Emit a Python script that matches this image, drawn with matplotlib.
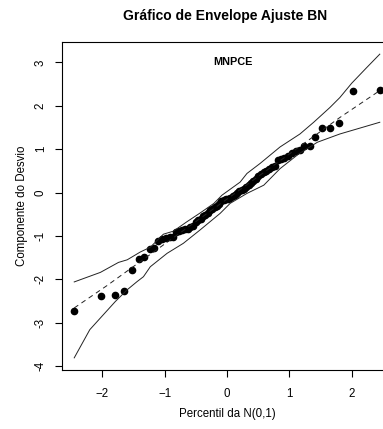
import matplotlib
matplotlib.use("Agg")
import matplotlib.pyplot as plt
from statistics import NormalDist

plt.rcParams['font.family'] = ['Liberation Sans', 'DejaVu Sans']

# sorted deviance residual components (70 observations)
residuos = [
    -2.72, -2.39, -2.36, -2.26, -1.78, -1.53, -1.49, -1.31, -1.27, -1.11,
    -1.08, -1.05, -1.03, -1.02, -0.92, -0.89, -0.87, -0.85, -0.83, -0.80,
    -0.77, -0.67, -0.64, -0.60, -0.55, -0.51, -0.47, -0.41, -0.38, -0.33,
    -0.30, -0.26, -0.19, -0.18, -0.16, -0.15, -0.13, -0.09, -0.05, 0.00,
    0.03, 0.06, 0.09, 0.13, 0.17, 0.21, 0.27, 0.32, 0.38, 0.42,
    0.47, 0.50, 0.54, 0.58, 0.62, 0.74, 0.77, 0.79, 0.84, 0.91,
    0.95, 0.99, 1.08, 1.08, 1.28, 1.48, 1.49, 1.61, 2.33, 2.36,
]

# simulated envelope bands
sup_x = [-2.45, -2.03, -1.74, -1.60, -1.39, -1.23, -1.02, -0.86, -0.64,
         -0.43, -0.21, -0.08, 0.21, 0.32, 0.53, 0.85, 1.17, 1.39, 1.65,
         1.81, 2.00, 2.24, 2.45]
sup_y = [-2.06, -1.84, -1.61, -1.55, -1.37, -1.26, -0.96, -0.89, -0.67,
         -0.47, -0.25, -0.06, 0.24, 0.44, 0.67, 1.05, 1.35, 1.62, 1.96,
         2.19, 2.52, 2.88, 3.19]
inf_x = [-2.45, -2.20, -1.79, -1.60, -1.44, -1.34, -1.23, -0.96, -0.70,
         -0.43, -0.11, 0.05, 0.32, 0.59, 0.85, 1.15, 1.45, 1.81, 2.45]
inf_y = [-3.81, -3.16, -2.51, -2.24, -2.05, -1.94, -1.71, -1.40, -1.17,
         -0.86, -0.48, -0.25, -0.02, 0.17, 0.55, 0.89, 1.16, 1.35, 1.62]
med_x = [-2.45, -1.92, 0.0, 1.81, 2.45]
med_y = [-2.66, -2.14, -0.15, 1.73, 2.35]

n = len(residuos)
quantis = [NormalDist().inv_cdf((i - 0.5) / n) for i in range(1, n + 1)]

W, H = 383, 429
fig = plt.figure(figsize=(W / 100, H / 100), dpi=100)
ax = fig.add_axes([62 / W, 59 / H, 330 / W, 328 / H])

ax.plot(quantis, residuos, 'o', color='black', ms=4.5, mec='black')
ax.plot(sup_x, sup_y, '-', color='#222222', lw=0.7)
ax.plot(inf_x, inf_y, '-', color='#222222', lw=0.7)
ax.plot(med_x, med_y, '--', color='#222222', lw=0.7, dashes=(5, 4))

ax.set_xlim(-2.646, 2.646)
ax.set_ylim(-4.09, 3.47)
ax.set_xticks([-2, -1, 0, 1, 2])
ax.set_yticks([-4, -3, -2, -1, 0, 1, 2, 3])
ax.set_yticklabels(['-4', '-3', '-2', '-1', '0', '1', '2', '3'],
                   rotation=90, va='center')
ax.tick_params(direction='out', length=5, width=0.8, labelsize=8.3)
ax.tick_params(axis='x', pad=8)
ax.tick_params(axis='y', pad=6)
for s in ax.spines.values():
    s.set_linewidth(0.8)

ax.text(0.1, 3.0, 'MNPCE', ha='center', va='center',
        fontsize=7.8, fontweight='bold')
ax.set_xlabel('Percentil da N(0,1)', fontsize=8.3, labelpad=6)
ax.set_ylabel('Componente do Desvio', fontsize=8.3, labelpad=5)
fig.text(225 / W, 1 - 16 / H, 'Gráfico de Envelope Ajuste BN',
         ha='center', va='center', fontsize=10, fontweight='bold')

fig.savefig('out.png', dpi=100)
